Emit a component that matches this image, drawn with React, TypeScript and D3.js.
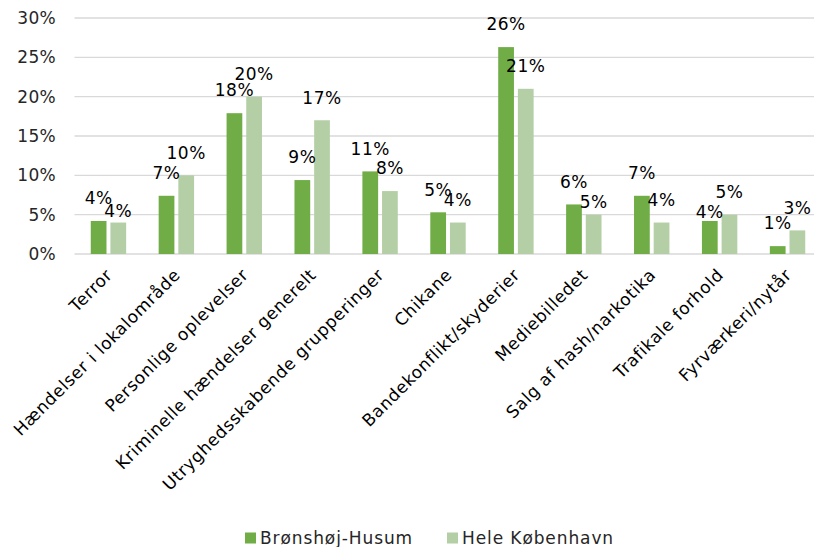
import React from "react";
import * as d3 from "d3";

const categories = [
  "Terror",
  "Hændelser i lokalområde",
  "Personlige oplevelser",
  "Kriminelle hændelser generelt",
  "Utryghedsskabende grupperinger",
  "Chikane",
  "Bandekonflikt/skyderier",
  "Mediebilledet",
  "Salg af hash/narkotika",
  "Trafikale forhold",
  "Fyrværkeri/nytår",
];
const seriesNames = ["Brønshøj-Husum", "Hele København"];
const bronshojValues = [0.042, 0.074, 0.179, 0.094, 0.105, 0.053, 0.263, 0.063, 0.074, 0.042, 0.01];
const kobenhavnValues = [0.04, 0.1, 0.2, 0.17, 0.08, 0.04, 0.21, 0.05, 0.04, 0.05, 0.03];
const yTicks = [0, 0.05, 0.1, 0.15, 0.2, 0.25, 0.3];

const COLORS = ["#70AD47", "#B4CFA5"];
const FONT = "'DejaVu Sans', sans-serif";
// manual label lifts (px above bar top) where the reference moved a label
const LABEL_LIFT: Record<string, number> = { "1-0": 11, "1-7": 12.3, "0-9": 9.3 };

export default function App() {
  const W = 814;
  const H = 547;
  const x = d3.scaleBand<string>().domain(categories).range([74.5, 821.5]).paddingInner(0).paddingOuter(0);
  const xs = d3.scaleBand<string>().domain(seriesNames).range([-17.7, 17.7]).paddingInner(0.2);
  const y = d3.scaleLinear().domain([0, 0.3]).range([254, 18]);
  const fmt = d3.format(".0%");
  const series = [bronshojValues, kobenhavnValues];

  return (
    <svg width={W} height={H} style={{ position: "absolute", left: 0, top: 0, background: "#fff" }}>
      <g>
        {yTicks.map((t) => (
          <line key={t} x1={74.5} x2={W} y1={y(t)} y2={y(t)} stroke="#D9D9D9" strokeWidth={1.4} />
        ))}
        {yTicks.map((t) => (
          <text key={"l" + t} x={56} y={y(t)} dy="0.35em" textAnchor="end" fontFamily={FONT} fontSize={17} letterSpacing={0.3} fill="#262626">
            {fmt(t)}
          </text>
        ))}
      </g>
      <g>
        {series.map((vals, si) =>
          vals.map((v, ci) => {
            const cx = x(categories[ci])! + x.bandwidth() / 2;
            const bx = cx + xs(seriesNames[si])!;
            return (
              <rect key={si + "-" + ci} x={bx} y={y(v)} width={xs.bandwidth()} height={y(0) - y(v)} fill={COLORS[si]} />
            );
          })
        )}
      </g>
      <g>
        {series.map((vals, si) =>
          vals.map((v, ci) => {
            const cx = x(categories[ci])! + x.bandwidth() / 2;
            const bx = cx + xs(seriesNames[si])! + xs.bandwidth() / 2;
            const lift = LABEL_LIFT[si + "-" + ci] ?? 22.7;
            return (
              <text key={"t" + si + "-" + ci} x={bx} y={y(v) - lift} dy="0.35em" textAnchor="middle" fontFamily={FONT} fontSize={17} letterSpacing={0.5} fill="#000">
                {fmt(v)}
              </text>
            );
          })
        )}
      </g>
      <g>
        {categories.map((c) => {
          const cx = x(c)! + x.bandwidth() / 2;
          return (
            <text key={c} transform={`translate(${cx + 5},${276}) rotate(-45)`} textAnchor="end" fontFamily={FONT} fontSize={17} letterSpacing={0.6} fill="#000">
              {c}
            </text>
          );
        })}
      </g>
      <g>
        {seriesNames.map((s, i) => {
          const lx = [245, 447][i];
          return (
            <g key={s}>
              <rect x={lx} y={532.5} width={11} height={11} fill={COLORS[i]} />
              <text x={lx + 15} y={543.5} fontFamily={FONT} fontSize={17} letterSpacing={0.9} fill="#262626">
                {s}
              </text>
            </g>
          );
        })}
      </g>
    </svg>
  );
}
